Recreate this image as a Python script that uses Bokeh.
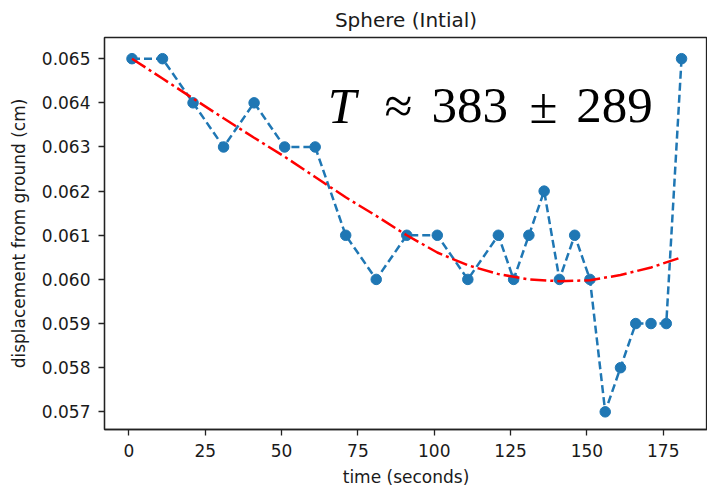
from bokeh.plotting import figure
from bokeh.models import Range1d, FixedTicker, PrintfTickFormatter, Label
from bokeh.embed import file_html
from bokeh.resources import INLINE

# ---- data ----
time_s = [1, 11, 21, 31, 41, 51, 61, 71, 81, 91, 101, 111, 121, 126, 131,
          136, 141, 146, 151, 156, 161, 166, 171, 176, 181]
displacement_cm = [0.065, 0.065, 0.064, 0.063, 0.064, 0.063, 0.063, 0.061,
                   0.060, 0.061, 0.061, 0.060, 0.061, 0.060, 0.061, 0.062,
                   0.060, 0.061, 0.060, 0.057, 0.058, 0.059, 0.059, 0.059,
                   0.065]

fit_time_s = [1, 11, 21, 31, 41, 51, 61, 71, 81, 91, 101, 111, 121, 131,
              141, 151, 161, 171, 181]
fit_displacement_cm = [0.06500, 0.06455, 0.06410, 0.06365, 0.06321, 0.06278,
                       0.06232, 0.06186, 0.06144, 0.06100, 0.06061, 0.06032,
                       0.06012, 0.06000, 0.05996, 0.05998, 0.06010, 0.06027,
                       0.06050]

x_ticks = [0, 25, 50, 75, 100, 125, 150, 175]
y_ticks = [0.057, 0.058, 0.059, 0.060, 0.061, 0.062, 0.063, 0.064, 0.065]

title_text = "Sphere (Intial)"
x_label = "time (seconds)"
y_label = "displacement from ground (cm)"
period_parts = ["T", "\u2248", "383", "\u00b1", "289"]

FONT = "DejaVu Sans"
TXT = "#1a1a1a"

p = figure(width=707, height=489, output_backend="svg", toolbar_location=None,
           x_range=Range1d(-8, 189.5), y_range=Range1d(0.05660, 0.06548),
           min_border_left=104, min_border_right=0, min_border_top=36,
           min_border_bottom=56)

p.background_fill_color = "white"
p.border_fill_color = "white"
p.outline_line_color = "#222222"
p.outline_line_width = 1.3
p.xgrid.visible = False
p.ygrid.visible = False

p.title.text = title_text
p.title.align = "center"
p.title.text_font = FONT
p.title.text_font_size = "20px"
p.title.text_font_style = "normal"
p.title.text_color = TXT
p.title.standoff = 11

for ax in (p.xaxis[0], p.yaxis[0]):
    ax.axis_line_color = "#222222"
    ax.axis_line_width = 1.3
    ax.major_tick_line_color = "#222222"
    ax.major_tick_line_width = 1.3
    ax.major_tick_out = 6
    ax.major_tick_in = 0
    ax.minor_tick_line_color = None
    ax.major_label_text_font = FONT
    ax.major_label_text_font_size = "17px"
    ax.major_label_text_color = TXT
    ax.axis_label_text_font = FONT
    ax.axis_label_text_font_size = "17px"
    ax.axis_label_text_font_style = "normal"
    ax.axis_label_text_color = TXT

p.xaxis[0].ticker = FixedTicker(ticks=x_ticks)
p.yaxis[0].ticker = FixedTicker(ticks=y_ticks)
p.yaxis[0].formatter = PrintfTickFormatter(format="%.3f")
p.xaxis[0].axis_label = x_label
p.yaxis[0].axis_label = y_label
p.xaxis[0].major_label_standoff = 8
p.xaxis[0].axis_label_standoff = 7
p.yaxis[0].major_label_standoff = 8
p.yaxis[0].axis_label_standoff = 10

# measured series
p.line(time_s, displacement_cm, line_color="#1f77b4", line_width=2.5,
       line_dash="8 4")
p.scatter(time_s, displacement_cm, size=10.5, fill_color="#1f77b4",
          line_color="#1f77b4", marker="circle")

# fitted curve
p.line(fit_time_s, fit_displacement_cm, line_color="#ff0000", line_width=2.5,
       line_dash="16 4 3 4")

# period annotation
ann_x = [65.1, 83.7, 99.1, 131.2, 146.5]
for part, xx in zip(period_parts, ann_x):
    p.add_layout(Label(x=xx, y=0.063937, text=part,
                       text_font="Liberation Serif", text_font_size="51px",
                       text_font_style="italic" if part == "T" else "normal",
                       text_color="black", text_align="left",
                       text_baseline="alphabetic"))

open("out.html", "w").write(file_html(p, INLINE))
